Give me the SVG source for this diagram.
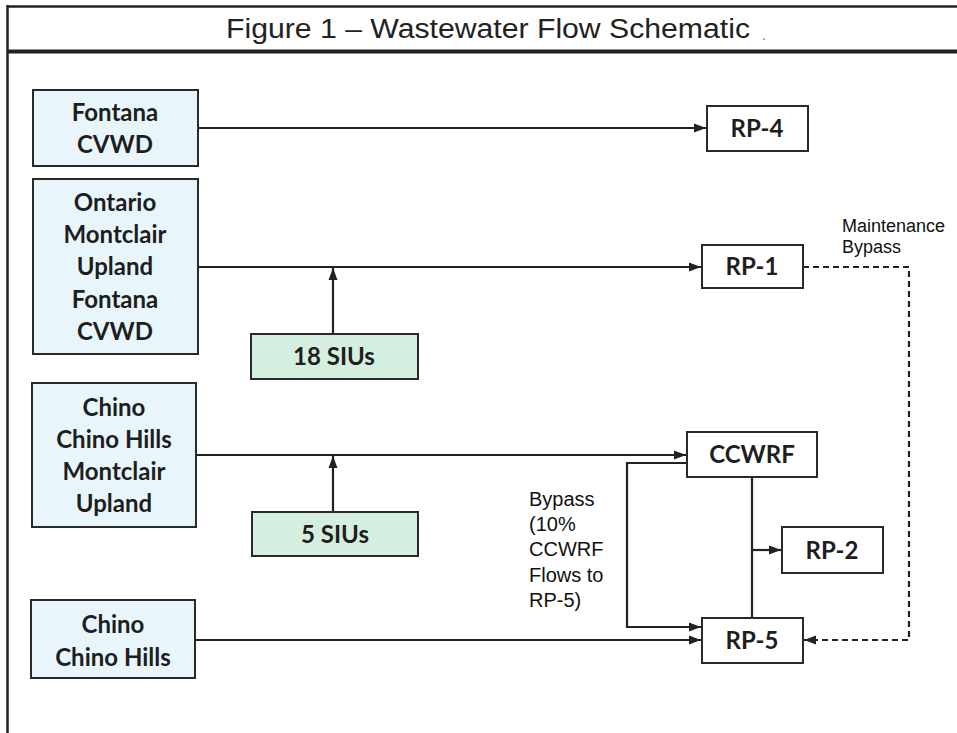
<svg xmlns="http://www.w3.org/2000/svg" width="957" height="733" viewBox="0 0 957 733">
<defs>
<style>
.frame{stroke:#222;fill:none}
.src rect{fill:#e8f6fb;stroke:#2a2a2a;stroke-width:2}
.siu rect{fill:#d4efe0;stroke:#2a2a2a;stroke-width:2}
.plant rect{fill:#fff;stroke:#2a2a2a;stroke-width:2}
.lbl{font-family:Lato,"Open Sans",sans-serif;font-weight:bold;font-size:24px;fill:#1e1e1e;text-anchor:middle}
.note{font-family:"Liberation Sans",Arial,sans-serif;fill:#111}
.c{stroke:#222;stroke-width:2.2;fill:none}
.d{stroke:#222;stroke-width:2.2;fill:none;stroke-dasharray:6 4}
</style>
<marker id="ah" viewBox="0 0 12 10" refX="12" refY="5" markerWidth="12" markerHeight="10" markerUnits="userSpaceOnUse" orient="auto">
<path d="M0,0.5 L12,5 L0,9.5 Z" fill="#222"/>
</marker>
</defs>
<rect width="957" height="733" fill="#fff"/>
<g id="frame">
<line class="frame" x1="7" y1="6.5" x2="957" y2="6.5" stroke-width="2.5"/>
<line class="frame" x1="7" y1="51.5" x2="957" y2="51.5" stroke-width="4"/>
<line class="frame" x1="7.5" y1="5" x2="7.5" y2="733" stroke-width="2.5"/>
<text id="title" x="226" y="38" font-family="Liberation Sans, Arial, sans-serif" font-size="27" fill="#222" textLength="524" lengthAdjust="spacingAndGlyphs">Figure 1 – Wastewater Flow Schematic</text>
<text x="762" y="40" font-family="Liberation Sans, Arial, sans-serif" font-size="14" fill="#777">.</text>
</g>
<g id="connectors">
<line class="c" x1="198" y1="128" x2="706" y2="128" marker-end="url(#ah)"/>
<line class="c" x1="198" y1="267" x2="701" y2="267" marker-end="url(#ah)"/>
<line class="c" x1="333" y1="334" x2="333" y2="268" marker-end="url(#ah)"/>
<line class="c" x1="196" y1="455" x2="686" y2="455" marker-end="url(#ah)"/>
<line class="c" x1="333" y1="512" x2="333" y2="456" marker-end="url(#ah)"/>
<line class="c" x1="195" y1="640" x2="701" y2="640" marker-end="url(#ah)"/>
<polyline class="c" points="687,463 627,463 627,627 701,627" marker-end="url(#ah)"/>
<line class="c" x1="752" y1="477" x2="752" y2="618"/>
<line class="c" x1="752" y1="550" x2="781" y2="550" marker-end="url(#ah)"/>
<polyline class="d" points="803,267 909,267 909,640 804,640" marker-end="url(#ah)"/>
</g>
<g id="n-fontana" class="src">
<rect x="33" y="90" width="165" height="76"/>
<text class="lbl" x="115" y="121">Fontana</text>
<text class="lbl" x="115" y="153">CVWD</text>
</g>
<g id="n-ontario" class="src">
<rect x="33" y="179" width="165" height="175"/>
<text class="lbl" x="115" y="211">Ontario</text>
<text class="lbl" x="115" y="243">Montclair</text>
<text class="lbl" x="115" y="275">Upland</text>
<text class="lbl" x="115" y="308">Fontana</text>
<text class="lbl" x="115" y="340">CVWD</text>
</g>
<g id="n-chino" class="src">
<rect x="32" y="383" width="164" height="144"/>
<text class="lbl" x="114" y="416">Chino</text>
<text class="lbl" x="114" y="448">Chino Hills</text>
<text class="lbl" x="114" y="480">Montclair</text>
<text class="lbl" x="114" y="512">Upland</text>
</g>
<g id="n-chinohills" class="src">
<rect x="31" y="600" width="164" height="78"/>
<text class="lbl" x="113" y="633">Chino</text>
<text class="lbl" x="113" y="666">Chino Hills</text>
</g>
<g id="n-siu18" class="siu">
<rect x="251" y="334" width="167" height="45"/>
<text class="lbl" x="334" y="365">18 SIUs</text>
</g>
<g id="n-siu5" class="siu">
<rect x="252" y="512" width="166" height="44"/>
<text class="lbl" x="335" y="543">5 SIUs</text>
</g>
<g id="n-rp4" class="plant">
<rect x="707" y="106" width="101" height="45"/>
<text class="lbl" x="757" y="137">RP-4</text>
</g>
<g id="n-rp1" class="plant">
<rect x="702" y="245" width="101" height="43"/>
<text class="lbl" x="752" y="275">RP-1</text>
</g>
<g id="n-ccwrf" class="plant">
<rect x="687" y="432" width="130" height="45"/>
<text class="lbl" x="752" y="463">CCWRF</text>
</g>
<g id="n-rp2" class="plant">
<rect x="782" y="527" width="101" height="46"/>
<text class="lbl" x="832" y="559">RP-2</text>
</g>
<g id="n-rp5" class="plant">
<rect x="702" y="618" width="101" height="45"/>
<text class="lbl" x="752" y="649">RP-5</text>
</g>
<g id="labels">
<text class="note" font-size="18" x="842" y="232">Maintenance</text>
<text class="note" font-size="18" x="842" y="253">Bypass</text>
<text class="note" font-size="20" x="529" y="506">Bypass</text>
<text class="note" font-size="20" x="529" y="531">(10%</text>
<text class="note" font-size="20" x="529" y="556">CCWRF</text>
<text class="note" font-size="20" x="529" y="582">Flows to</text>
<text class="note" font-size="20" x="529" y="607">RP-5)</text>
</g>
</svg>
